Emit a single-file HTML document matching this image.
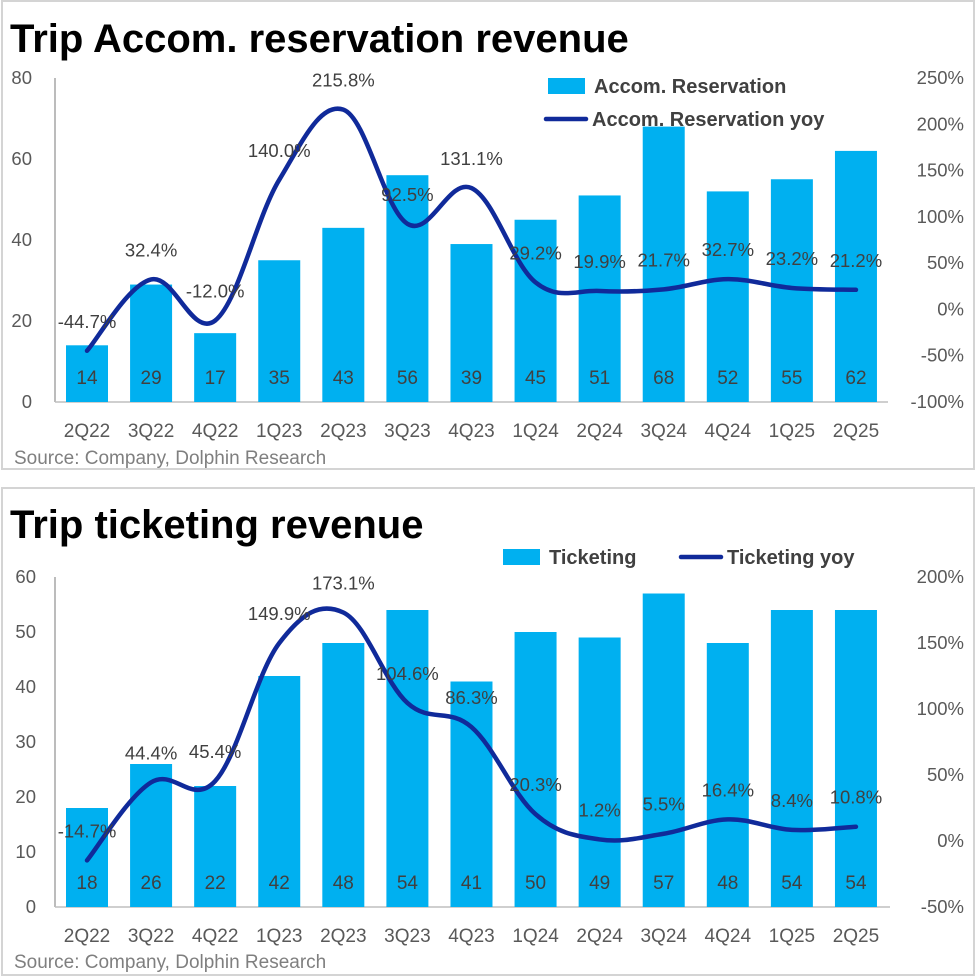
<!DOCTYPE html>
<html><head><meta charset="utf-8">
<style>
body{margin:0;background:#fff;width:978px;height:977px;overflow:hidden;font-family:"Liberation Sans","Noto Sans CJK SC",sans-serif;}
svg{position:absolute;left:0;top:0}
</style></head>
<body>
<svg id="svg" width="978" height="977" xmlns="http://www.w3.org/2000/svg"></svg>
<script>
const categories=["2Q22","3Q22","4Q22","1Q23","2Q23","3Q23","4Q23","1Q24","2Q24","3Q24","4Q24","1Q25","2Q25"];
const accomValues=[14,29,17,35,43,56,39,45,51,68,52,55,62];
const accomYoy=[-44.7,32.4,-12.0,140.0,215.8,92.5,131.1,29.2,19.9,21.7,32.7,23.2,21.2];
const accomLeftTicks=[0,20,40,60,80];
const accomRightTicks=[-100,-50,0,50,100,150,200,250];
const ticketValues=[18,26,22,42,48,54,41,50,49,57,48,54,54];
const ticketYoy=[-14.7,44.4,45.4,149.9,173.1,104.6,86.3,20.3,1.2,5.5,16.4,8.4,10.8];
const ticketLeftTicks=[0,10,20,30,40,50,60];
const ticketRightTicks=[-50,0,50,100,150,200];

const NS="http://www.w3.org/2000/svg";
const svg=document.getElementById('svg');
function mk(tag,attrs,parent){const e=document.createElementNS(NS,tag);for(const k in attrs)e.setAttribute(k,attrs[k]);(parent||svg).appendChild(e);return e;}
function txt(s,x,y,attrs,parent){const e=mk('text',Object.assign({x:x,y:y,'font-family':'"Liberation Sans","Noto Sans CJK SC",sans-serif'},attrs),parent);e.textContent=s;return e;}

function smoothPath(pts){
  let d=`M${pts[0][0]},${pts[0][1]}`;
  for(let i=0;i<pts.length-1;i++){
    const p0=pts[i-1]||pts[i],p1=pts[i],p2=pts[i+1],p3=pts[i+2]||p2;
    const t=0.18;
    const c1=[p1[0]+(p2[0]-p0[0])*t,p1[1]+(p2[1]-p0[1])*t];
    const c2=[p2[0]-(p3[0]-p1[0])*t,p2[1]-(p3[1]-p1[1])*t];
    d+=` C${c1[0]},${c1[1]} ${c2[0]},${c2[1]} ${p2[0]},${p2[1]}`;
  }
  return d;
}

function drawChart(o){
  const g=mk('g',{});
  
  
  const panel=mk('rect',{x:o.px,y:o.py,width:o.pw,height:o.ph,fill:'#fff',stroke:'#d4d4d4','stroke-width':2},g);
  
  const t=txt(o.title,10,o.titleY,{'font-size':40,'font-weight':'bold',fill:'#000'},g);
  
  const yL=v=>o.y0-(v-o.lMin)/(o.lMax-o.lMin)*(o.y0-o.y1);
  const yR=v=>o.y0-(v-o.rMin)/(o.rMax-o.rMin)*(o.y0-o.y1);
  const xC=i=>87+i*64.08;
  const ax=mk('line',{x1:55,y1:o.y1,x2:55,y2:o.y0,stroke:'#a6a6a6','stroke-width':1.5},g);
  
  const bx=mk('line',{x1:55,y1:o.y0,x2:o.rAxisX,y2:o.y0,stroke:'#bfbfbf','stroke-width':1.5},g);
  
  o.lTicks.forEach(v=>{const e=txt(String(v),o.lLabelX,yL(v)+6,{'font-size':18.5,fill:'#595959','text-anchor':'end'},g);
    });
  o.rTicks.forEach(v=>{const e=txt(v+'%',964,yR(v)+6,{'font-size':18.5,fill:'#595959','text-anchor':'end'},g);
    });
  categories.forEach((c,i)=>{const e=txt(c,xC(i),o.y0+35,{'font-size':19,fill:'#595959','text-anchor':'middle'},g);
    });
  o.values.forEach((v,i)=>{
    const b=mk('rect',{x:xC(i)-21,y:yL(v),width:42,height:o.y0-yL(v),fill:'#00B0F0'},g);
    
    
    const l=txt(String(v),xC(i),o.y0-18,{'font-size':19,fill:'#404040','text-anchor':'middle'},g);
    
  });
  const pts=o.yoy.map((v,i)=>[xC(i),yR(v)]);
  const p=mk('path',{d:smoothPath(pts),fill:'none',stroke:'#102A9A','stroke-width':4.5,'stroke-linecap':'round'},g);
  
  o.yoy.forEach((v,i)=>{
    const l=txt(v.toFixed(1)+'%',xC(i),yR(v)-23,{'font-size':18.5,fill:'#404040','text-anchor':'middle'},g);
    
  });
  const s=txt('Source: Company, Dolphin Research',14,o.srcY,{'font-size':19,fill:'#7f7f7f'},g);
  
  o.legend.forEach(L=>{
    let m;
    if(L.type==='bar'){m=mk('rect',{x:L.x,y:L.y-8,width:37,height:16,fill:'#00B0F0'},g);}
    else{m=mk('line',{x1:L.x,y1:L.y,x2:L.x+40,y2:L.y,stroke:'#102A9A','stroke-width':4.5,'stroke-linecap':'round'},g);}
    
    const e=txt(L.label,L.x+46,L.y+7,{'font-size':20,'font-weight':'bold',fill:'#404040'},g);
    
  });
}

drawChart({name:'accom-chart',title:'Trip Accom. reservation revenue',titleY:52,px:2,py:1,pw:972,ph:468,
  y0:402,y1:78,lMin:0,lMax:80,rMin:-100,rMax:250,lTicks:accomLeftTicks,rTicks:accomRightTicks,lLabelX:32,rAxisX:888,
  values:accomValues,yoy:accomYoy,srcY:464,
  legend:[{type:'bar',x:548,y:86,label:'Accom. Reservation'},{type:'line',x:546,y:119,label:'Accom. Reservation yoy'}]});
drawChart({name:'ticketing-chart',title:'Trip ticketing revenue',titleY:538,px:2,py:488,pw:972,ph:487,
  y0:907,y1:577,lMin:0,lMax:60,rMin:-50,rMax:200,lTicks:ticketLeftTicks,rTicks:ticketRightTicks,lLabelX:36,rAxisX:890,
  values:ticketValues,yoy:ticketYoy,srcY:968,
  legend:[{type:'bar',x:503,y:557,label:'Ticketing'},{type:'line',x:681,y:557,label:'Ticketing yoy'}]});
</script>
</body></html>
